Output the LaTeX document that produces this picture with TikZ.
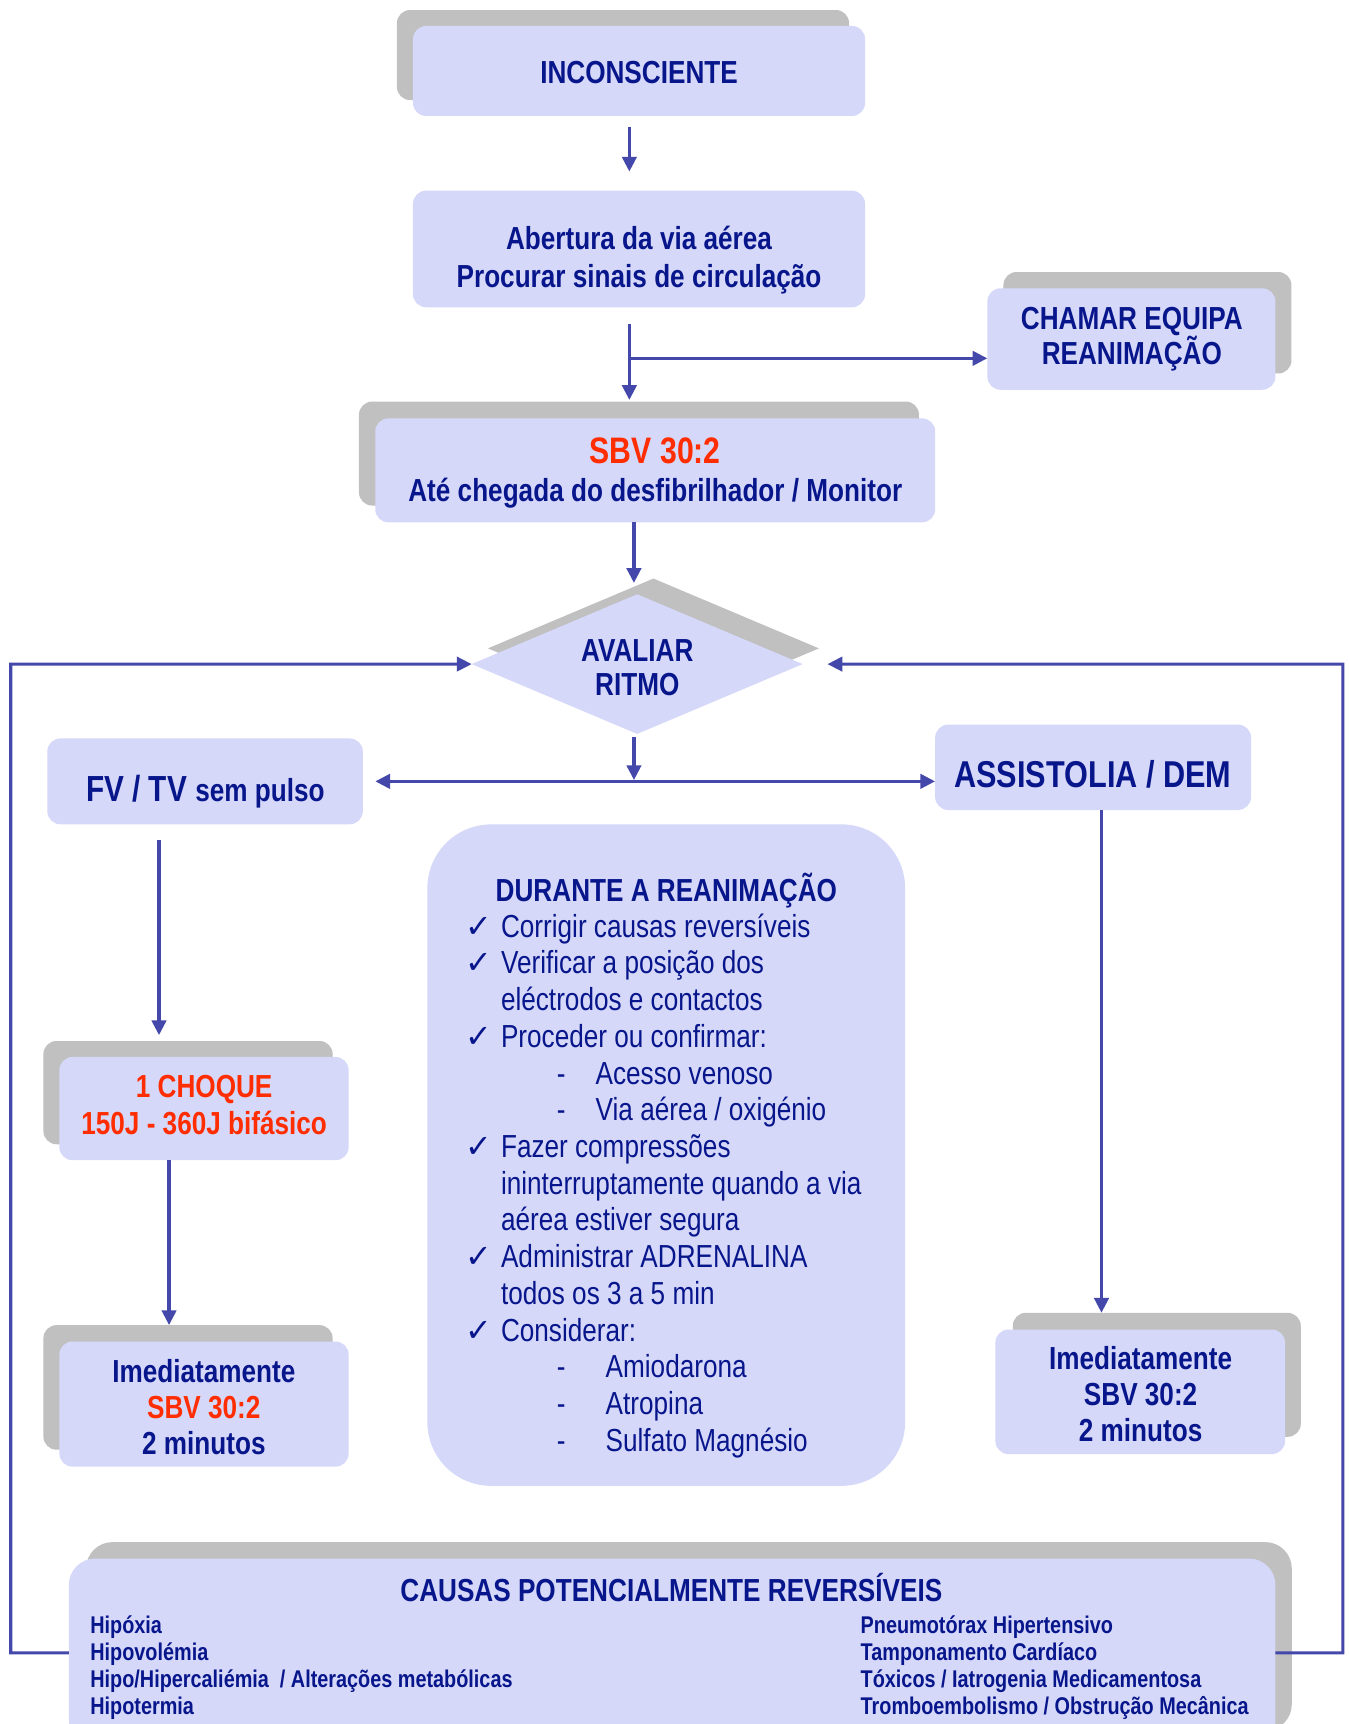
\documentclass[tikz,border=0pt]{standalone}
\usepackage{fontspec}
\setmainfont{Liberation Sans}[FakeStretch=0.82]
\newfontfamily\chkfont{DejaVu Sans}
\usetikzlibrary{arrows.meta,shapes.geometric,calc}
\definecolor{boxfill}{RGB}{214,216,250}
\definecolor{shgray}{RGB}{192,192,192}
\definecolor{navy}{RGB}{8,22,140}
\definecolor{redt}{RGB}{255,45,0}
\definecolor{arrowc}{RGB}{68,72,170}
\newcommand\stk[3]{\vtop{\fontsize{#1}{#2}\selectfont\lineskiplimit=-\maxdimen\lineskip=0pt #3}}
\newcommand\ctr[1]{\hbox to 0pt{\hss#1\hss}}
\newcommand\lft[1]{\hbox{#1}}
\newcommand\chk[1]{\hbox{\makebox[31.2pt][l]{\kern-1.5pt\chkfont\bfseries\fontsize{29}{29}\selectfont ✓}#1}}
\newcommand\contl[1]{\hbox{\kern31.2pt #1}}
\newcommand\subi[2]{\hbox{\kern81.9pt\makebox[#1][l]{-}#2}}
\tikzset{
  frontbox/.style={fill=boxfill, draw=none, rounded corners=12pt, inner sep=0pt, outer sep=0pt},
  shbox/.style={fill=shgray, draw=none, rounded corners=12pt, inner sep=0pt, outer sep=0pt},
  txt/.style={inner sep=0pt, outer sep=0pt, anchor=base, text=navy, font=\bfseries},
  arr/.style={draw=arrowc, line width=3.2pt, -{Triangle[length=13.5pt,width=13pt]}},
  arrtwo/.style={draw=arrowc, line width=3.2pt, {Triangle[length=13.5pt,width=13pt]}-{Triangle[length=13.5pt,width=13pt]}},
  looparr/.style={draw=arrowc, line width=2.8pt, line join=miter, -{Triangle[length=13.5pt,width=13pt]}},
  diamondbox/.style={diamond, draw=none, inner sep=0pt, outer sep=0pt, minimum width=301pt, minimum height=127pt}
}
\begin{document}
\begin{tikzpicture}[x=1pt,y=-1pt]
\useasboundingbox (0,0) rectangle (1227,1568);
\clip (0,0) rectangle (1227,1568);
\fill[white] (0,0) rectangle (1227,1568);

% shadows
\node[shbox, minimum width=411.2pt, minimum height=81.9pt] (inconsS) at (566.6,50.05) {};
\node[shbox, minimum width=262pt, minimum height=92.3pt] (chamarS) at (1043.6,293.55) {};
\node[shbox, minimum width=509.3pt, minimum height=94.6pt] (sbvS) at (581.15,412.5) {};
\node[diamondbox, fill=shgray] (diamS) at (594.3,589.7) {};
\node[shbox, minimum width=263.1pt, minimum height=93.9pt] (choqueS) at (171,993.75) {};
\node[shbox, minimum width=263.1pt, minimum height=113.3pt] (limedS) at (171,1261.85) {};
\node[shbox, minimum width=262pt, minimum height=112.8pt] (rimedS) at (1052.1,1250.4) {};
\node[shbox, rounded corners=24pt, minimum width=1096.6pt, minimum height=171.5pt] (causasS) at (626.6,1488.3) {};

% front boxes
\node[frontbox, minimum width=411.2pt, minimum height=81.9pt] (incons) at (581.2,64.55) {};
\node[frontbox, minimum width=411.2pt, minimum height=106.1pt] (aber) at (581.2,226.45) {};
\node[frontbox, minimum width=262pt, minimum height=92.3pt] (chamar) at (1029,308.35) {};
\node[frontbox, minimum width=509.3pt, minimum height=94.6pt] (sbv) at (595.95,427.8) {};
\node[diamondbox, fill=boxfill] (diam) at (579.5,604) {};
\node[frontbox, minimum width=287pt, minimum height=78.1pt] (fv) at (186.5,710.65) {};
\node[frontbox, minimum width=287.4pt, minimum height=77.7pt] (assis) at (994.2,697.85) {};
\node[frontbox, rounded corners=58pt, minimum width=434.5pt, minimum height=601.6pt] (durante) at (605.95,1050.6) {};
\node[frontbox, minimum width=263.1pt, minimum height=93.9pt] (choque) at (185.55,1008.25) {};
\node[frontbox, minimum width=263.1pt, minimum height=113.8pt] (limed) at (185.55,1277) {};
\node[frontbox, minimum width=263.5pt, minimum height=113.3pt] (rimed) at (1037.05,1265.85) {};
\node[frontbox, rounded corners=24pt, minimum width=1097.4pt, minimum height=171.5pt] (causas) at (611.3,1503.25) {};

% connectors
\draw[arr, shorten <=9.7pt, shorten >=17.3pt] ([xshift=-8.8pt]incons.south) -- ([xshift=-8.8pt]incons.south |- aber.north);
\draw[arr, shorten <=15.5pt, shorten >=16.7pt] ([xshift=-8.8pt]aber.south) -- ([xshift=-8.8pt]aber.south |- sbv.north);
\coordinate (jn) at (573.5,325.9);
\draw[arr] (jn) -- (jn -| chamar.west);
\draw[arr, shorten >=10.3pt] ([xshift=-19.4pt]sbv.south) -- ([xshift=-19.4pt]sbv.south |- diam.north);
\coordinate (barc) at (576.6,711);
\draw[arr, shorten <=3pt, shorten >=1.5pt] (diam.south -| barc) -- (barc);
\draw[arrtwo, shorten <=11.3pt] (fv.east) -- (fv.east -| assis.west);
\draw[arr, shorten <=14.5pt, shorten >=5.3pt] ([xshift=-41.9pt]fv.south) -- ([xshift=-41.9pt]fv.south |- choqueS.north);
\draw[arr] ([xshift=-31.8pt]choque.south) -- ([xshift=-31.8pt]choque.south |- limedS.north);
\draw[arr] ([xshift=7.6pt]assis.south) -- ([xshift=7.6pt]assis.south |- rimedS.north);
\coordinate (lb) at (9.8,1503.3);
\coordinate (lt) at (9.8,604);
\draw[looparr] (causas.west) -- (lb) -- (lt) -- (diam.west);
\coordinate (rb) at (1221.3,1503.3);
\coordinate (rt) at (1221.3,604);
\draw[looparr, shorten >=22.6pt] (causas.east) -- (rb) -- (rt) -- (diam.east);

% texts
\node[txt] (t-incons) at (581.2,75.8) {\stk{29}{34}{\ctr{INCONSCIENTE}}};
\node[txt] (t-aber) at (581.2,226.8) {\stk{29}{34.7}{\ctr{Abertura da via aérea}\ctr{Procurar sinais de circulação}}};
\node[txt] (t-chamar) at (1029.4,299.8) {\stk{29}{32}{\ctr{CHAMAR EQUIPA}\ctr{REANIMAÇÃO}}};
\node[txt] (t-sbv) at (596,422) {\stk{29}{34.3}{\ctr{\fontsize{33.5}{34.3}\selectfont\color{redt}SBV 30:2}\ctr{Até chegada do desfibrilhador / Monitor}}};
\node[txt] (t-aval) at (579.6,601.9) {\stk{29}{31.1}{\ctr{AVALIAR}\ctr{RITMO}}};
\node[txt] (t-fv) at (186.8,729) {\stk{33}{34}{\ctr{FV / TV \fontsize{29}{34}\selectfont sem pulso}}};
\node[txt] (t-assis) at (994,716.5) {\stk{34}{36}{\ctr{ASSISTOLIA / DEM}}};
\node[txt] (t-dur) at (606.1,820) {\stk{29}{33}{\ctr{DURANTE A REANIMAÇÃO}}};
\node[txt, font=\mdseries, anchor=base west] (t-list) at (424.5,852.4) {\stk{29}{33.39}{%
\chk{Corrigir causas reversíveis}%
\chk{Verificar a posição dos}%
\contl{eléctrodos e contactos}%
\chk{Proceder ou confirmar:}%
\subi{35.4pt}{Acesso venoso}%
\subi{35.4pt}{Via aérea / oxigénio}%
\chk{Fazer compressões}%
\contl{ininterruptamente quando a via}%
\contl{aérea estiver segura}%
\chk{Administrar ADRENALINA}%
\contl{todos os 3 a 5 min}%
\chk{Considerar:}%
\subi{44.5pt}{Amiodarona}%
\subi{44.5pt}{Atropina}%
\subi{44.5pt}{Sulfato Magnésio}}};
\node[txt, text=redt] (t-choque) at (185.7,997.9) {\stk{29}{34}{\ctr{1 CHOQUE}\ctr{150J - 360J bifásico}}};
\node[txt] (t-limed) at (185.4,1257.2) {\stk{29}{32.85}{\ctr{Imediatamente}\ctr{\color{redt}SBV 30:2}\ctr{2 minutos}}};
\node[txt] (t-rimed) at (1037.4,1245.5) {\stk{29}{32.9}{\ctr{Imediatamente}\ctr{SBV 30:2}\ctr{2 minutos}}};
\node[txt] (t-causas) at (610.6,1457) {\stk{29}{30}{\ctr{CAUSAS POTENCIALMENTE REVERSÍVEIS}}};
\node[txt, anchor=base west] (t-cl) at (82.2,1485.6) {\stk{22}{24.57}{\lft{Hipóxia}\lft{Hipovolémia}\lft{Hipo/Hipercaliémia \ / Alterações metabólicas}\lft{Hipotermia}}};
\node[txt, anchor=base west] (t-cr) at (782.8,1485.6) {\stk{22}{24.57}{\lft{Pneumotórax Hipertensivo}\lft{Tamponamento Cardíaco}\lft{Tóxicos / Iatrogenia Medicamentosa}\lft{Tromboembolismo / Obstrução Mecânica}}};
\end{tikzpicture}
\end{document}
